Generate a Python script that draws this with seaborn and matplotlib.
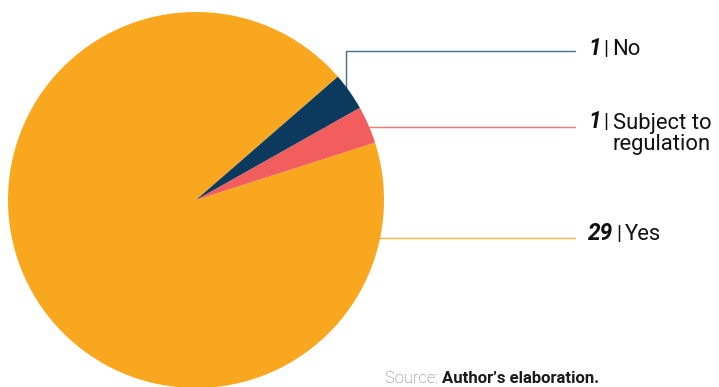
import numpy as np
import matplotlib
matplotlib.use("Agg")
import matplotlib.pyplot as plt
import seaborn as sns

# Survey answers
categories = ["Yes", "Subject to\nregulation", "No"]
counts = [29, 1, 1]
palette = ["#F9A71E", "#F25E5E", "#0B3A5E"]

W, H = 719, 387
DPI = 100

sns.set_theme(style="white")
plt.rcParams["font.family"] = ["Roboto", "DejaVu Sans"]

fig = plt.figure(figsize=(W / DPI, H / DPI), dpi=DPI)
ax = fig.add_axes([0, 0, 1, 1])


def py(y):
    """Convert a top-down pixel row into axis y."""
    return H - y


cx, cy, R = 196, py(200), 188
colors = sns.color_palette(palette)
wedges, _ = ax.pie(counts, colors=colors, startangle=41, counterclock=True,
                   center=(cx, cy), radius=R, frame=True,
                   wedgeprops=dict(linewidth=0, zorder=2))
ax.set_xlim(0, W)
ax.set_ylim(0, H)
ax.set_aspect("equal")
ax.axis("off")

# layout: leader-line rows, text baselines (pixel rows), line end, text start
line_rows = [238, 127, 51]
text_rows = [239.5, 128.5, 55]
line_end = 575
text_x = 588
fs = 15.8

fig.canvas.draw()
renderer = fig.canvas.get_renderer()
inv = ax.transData.inverted()

for wedge, cat, n, col, row, trow in zip(wedges, categories, counts, palette,
                                         line_rows, text_rows):
    yl = py(row)
    if cat == "No":
        mid = np.deg2rad((wedge.theta1 + wedge.theta2) / 2)
        ax_x = cx + 0.975 * R * np.cos(mid)
        ax_y = cy + 0.975 * R * np.sin(mid)
        ax.plot([ax_x, ax_x, line_end], [ax_y, yl, yl], color=col, lw=1.0,
                alpha=0.75, zorder=1, solid_joinstyle="miter")
    else:
        ax.plot([cx, line_end], [yl, yl], color=col, lw=1.0, alpha=0.85,
                zorder=1)

    base = py(trow)
    t_num = ax.text(text_x, base, str(n), fontsize=fs * 1.03, fontweight="bold",
                    fontstyle="italic", color="#111111", va="baseline",
                    ha="left")
    bb = t_num.get_window_extent(renderer)
    x_pipe = inv.transform((bb.x1 + 5.5, 0))[0]
    ax.text(x_pipe, base, "|", fontsize=fs * 0.95, color="#111111",
            va="baseline", ha="center")
    x_lab = inv.transform((bb.x1 + 12, 0))[0]
    lines = cat.split("\n")
    t_lab = ax.text(x_lab, base, lines[0], fontsize=fs, color="#111111",
                    va="baseline", ha="left")
    if len(lines) > 1:
        lb = t_lab.get_window_extent(renderer)
        xc = inv.transform(((lb.x0 + lb.x1) / 2, 0))[0]
        ax.text(xc, base - 21.5, lines[1], fontsize=fs, color="#111111",
                va="baseline", ha="center")

# source note
src_row = 383.0
t_src = ax.text(385, py(src_row), "Source: ", fontsize=12, color="#7a7a7a",
                fontweight="light", va="baseline", ha="left")
bb = t_src.get_window_extent(renderer)
x2 = inv.transform((bb.x1, 0))[0]
ax.text(x2, py(src_row), "Author\u2019s elaboration.", fontsize=12,
        color="#1a1a1a", fontweight="bold", va="baseline", ha="left")

fig.savefig("out.png", dpi=DPI)
